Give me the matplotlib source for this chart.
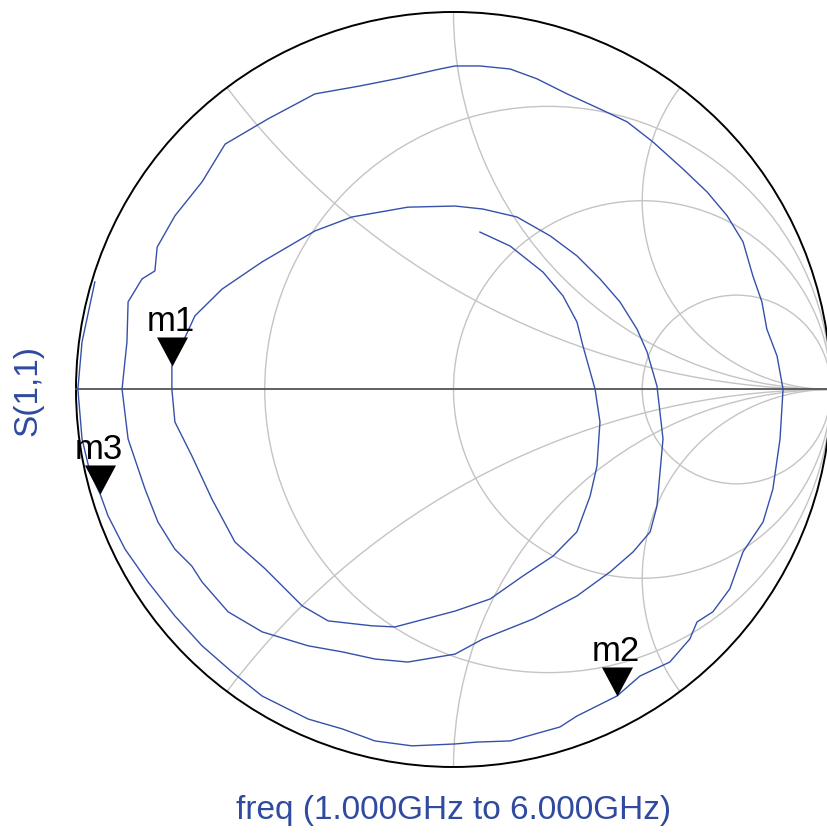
import matplotlib.pyplot as plt
import numpy as np
from matplotlib.path import Path
from matplotlib.patches import Circle

s11_re = [0.070, 0.150, 0.237, 0.290, 0.327, 0.343, 0.375, 0.388, 0.380, 0.362,
          0.327, 0.264, 0.184, 0.097, 0.004, -0.155, -0.216, -0.332, -0.401, -0.499,
          -0.579, -0.640, -0.693, -0.738, -0.746, -0.746, -0.685, -0.613, -0.507, -0.367,
          -0.269, -0.121, 0.004, 0.078, 0.168, 0.256, 0.327, 0.388, 0.441, 0.486,
          0.513, 0.539, 0.555, 0.539, 0.521, 0.476, 0.415, 0.327, 0.211, 0.078,
          0.004, -0.121, -0.208, -0.295, -0.385, -0.507, -0.597, -0.666, -0.693, -0.738,
          -0.783, -0.817, -0.862, -0.878, -0.865, -0.862, -0.825, -0.791, -0.785, -0.738,
          -0.666, -0.605, -0.491, -0.367, -0.248, -0.142, -0.036, 0.004, 0.070, 0.150,
          0.221, 0.301, 0.388, 0.460, 0.528, 0.608, 0.672, 0.725, 0.767, 0.793,
          0.817, 0.830, 0.857, 0.873, 0.865, 0.846, 0.820, 0.767, 0.732, 0.687,
          0.645, 0.626, 0.573, 0.494, 0.433, 0.327, 0.282, 0.150, 0.062, 0.004,
          -0.110, -0.208, -0.295, -0.385, -0.507, -0.587, -0.666, -0.738, -0.809, -0.870,
          -0.915, -0.936, -0.963, -0.984, -0.995, -0.984, -0.950]
s11_im = [0.417, 0.380, 0.311, 0.248, 0.179, 0.115, 0.001, -0.086, -0.203, -0.282,
          -0.377, -0.441, -0.494, -0.555, -0.587, -0.629, -0.626, -0.613, -0.573, -0.475,
          -0.404, -0.290, -0.176, -0.086, 0.001, 0.062, 0.195, 0.266, 0.338, 0.420,
          0.457, 0.483, 0.486, 0.478, 0.457, 0.407, 0.354, 0.293, 0.232, 0.160,
          0.099, 0.009, -0.131, -0.309, -0.377, -0.430, -0.483, -0.547, -0.608, -0.661,
          -0.701, -0.722, -0.714, -0.695, -0.679, -0.642, -0.589, -0.510, -0.468, -0.423,
          -0.351, -0.264, -0.131, 0.001, 0.126, 0.232, 0.293, 0.314, 0.377, 0.460,
          0.550, 0.650, 0.717, 0.783, 0.804, 0.825, 0.849, 0.857, 0.857, 0.849,
          0.823, 0.783, 0.743, 0.709, 0.656, 0.584, 0.523, 0.460, 0.391, 0.301,
          0.232, 0.160, 0.089, 0.001, -0.131, -0.264, -0.351, -0.430, -0.528, -0.589,
          -0.616, -0.661, -0.722, -0.759, -0.812, -0.865, -0.894, -0.931, -0.934, -0.939,
          -0.944, -0.931, -0.899, -0.873, -0.812, -0.748, -0.679, -0.600, -0.510, -0.423,
          -0.335, -0.277, -0.219, -0.131, 0.001, 0.126, 0.285]

marker_names = ['m1', 'm2', 'm3']
marker_idx = [25, 104, 121]

# smith grid
r_values = [1/3, 1, 3]
x_values = [0.5, 1, 2, -0.5, -1, -2]

trace_col = '#3650aa'
label_col = '#2f4a9e'
grid_col = '#c4c4c4'

fig = plt.figure(figsize=(8.27, 8.37), dpi=100)
ax = fig.add_axes([0, 0, 1, 1])
ax.set_xlim(-1.2013, 0.9894)
ax.set_ylim(-1.1828, 1.0344)
ax.axis('off')

unit = Circle((0, 0), 1, transform=ax.transData)

for r in r_values:
    ax.add_patch(Circle((r / (1 + r), 0), 1 / (1 + r), fill=False, ec=grid_col, lw=1.0))

for xv in x_values:
    arc = Circle((1, 1 / xv), 1 / abs(xv), fill=False, ec=grid_col, lw=1.0)
    ax.add_patch(arc)
    arc.set_clip_path(unit)

ax.plot([-1, 1], [0, 0], color='#555555', lw=1.3)
ax.add_patch(Circle((0, 0), 1, fill=False, ec='black', lw=1.4))

ax.plot(s11_re, s11_im, color=trace_col, lw=1.0)

# marker triangle with its tip on the point
tri = Path([(-15.5, 29), (15.5, 29), (0, 0), (-15.5, 29)], closed=True)
for name, i in zip(marker_names, marker_idx):
    ax.plot(s11_re[i], s11_im[i], marker=tri, ms=41.8, mew=0, color='black', ls='none')
    ax.annotate(name, (s11_re[i], s11_im[i]), xytext=(-1, 26), textcoords='offset points',
                ha='center', va='baseline', fontsize=25, family='Liberation Sans')

fig.text(28 / 827, 1 - 391 / 837, 'S(1,1)', rotation=90, ha='center', va='center',
         fontsize=24, color=label_col, family='Liberation Sans')
fig.text(454 / 827, 1 - 811 / 837, 'freq (1.000GHz to 6.000GHz)', ha='center', va='center',
         fontsize=24, color=label_col, family='Liberation Sans')

fig.savefig('out.png', dpi=100, facecolor='white')
